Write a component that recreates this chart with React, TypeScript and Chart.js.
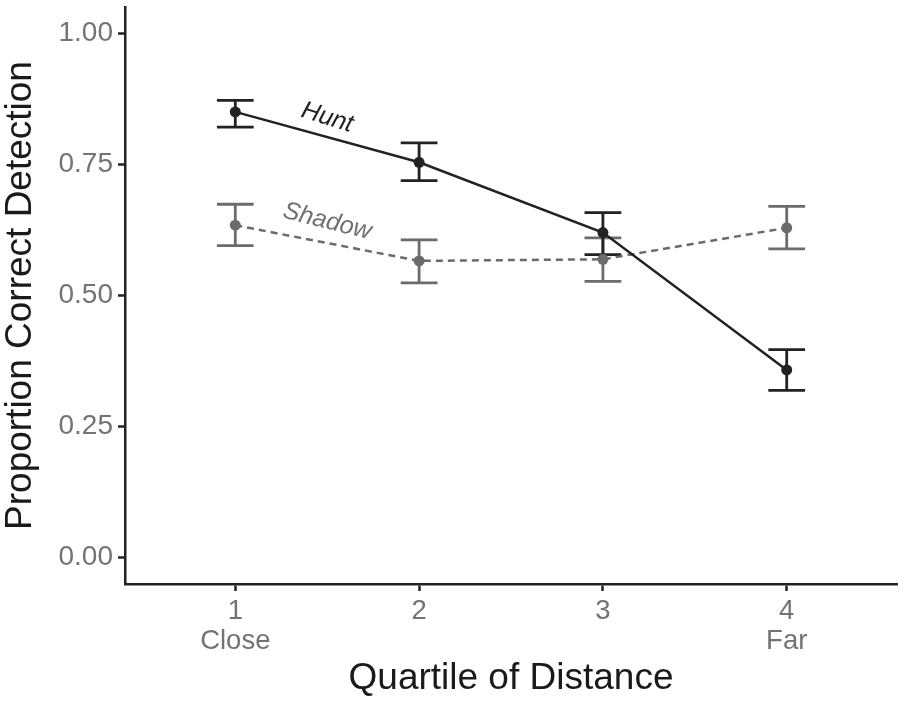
import React, { useEffect, useRef } from "react";
import { Chart, registerables } from "chart.js";

Chart.register(...registerables);

// ---- data ----
const quartiles = [1, 2, 3, 4];
const quartileLabels = [["1", "Close"], ["2"], ["3"], ["4", "Far"]];
const yTicks = [0, 0.25, 0.5, 0.75, 1.0];

const huntMean = [0.85, 0.754, 0.62, 0.358];
const huntLower = [0.821, 0.719, 0.578, 0.319];
const huntUpper = [0.872, 0.791, 0.658, 0.397];

const shadowMean = [0.634, 0.566, 0.569, 0.629];
const shadowLower = [0.595, 0.524, 0.527, 0.589];
const shadowUpper = [0.674, 0.606, 0.61, 0.67];

const seriesNames = ["Hunt", "Shadow"];
const seriesLabelX = [1.5, 1.5];
const seriesLabelY = [0.839, 0.641];

// ---- style ----
const FONT = '"Liberation Sans", Arial, Helvetica, sans-serif';
const huntColor = "#222222";
const shadowColor = "#6b6b6b";
const tickColor = "#737373";
const titleColor = "#1a1a1a";
const errorBarWidth = 0.2; // in x units

const overlayPlugin = {
  id: "overlay",
  beforeDatasetsDraw(chart: any) {
    const ctx = chart.ctx;
    const xs = chart.scales.x;
    const ys = chart.scales.y;
    const groups = [
      { lower: shadowLower, upper: shadowUpper, color: shadowColor },
      { lower: huntLower, upper: huntUpper, color: huntColor },
    ];
    ctx.save();
    for (const g of groups) {
      ctx.strokeStyle = g.color;
      ctx.lineWidth = 2.8;
      ctx.lineCap = "butt";
      quartiles.forEach((q, i) => {
        const x = xs.getPixelForValue(q);
        const half = xs.getPixelForValue(q + errorBarWidth / 2) - x;
        const yl = ys.getPixelForValue(g.lower[i]);
        const yu = ys.getPixelForValue(g.upper[i]);
        ctx.beginPath();
        ctx.moveTo(x, yl);
        ctx.lineTo(x, yu);
        ctx.moveTo(x - half, yl);
        ctx.lineTo(x + half, yl);
        ctx.moveTo(x - half, yu);
        ctx.lineTo(x + half, yu);
        ctx.stroke();
      });
    }
    ctx.restore();
  },
  afterDatasetsDraw(chart: any) {
    const ctx = chart.ctx;
    const xs = chart.scales.x;
    const ys = chart.scales.y;
    const colors = [huntColor, "#707070"];
    const angles = [17, 14];
    ctx.save();
    seriesNames.forEach((name, i) => {
      const x = xs.getPixelForValue(seriesLabelX[i]);
      const y = ys.getPixelForValue(seriesLabelY[i]);
      ctx.save();
      ctx.translate(x, y);
      ctx.rotate((angles[i] * Math.PI) / 180);
      ctx.font = `italic 25px ${FONT}`;
      ctx.fillStyle = colors[i];
      ctx.textAlign = "center";
      ctx.textBaseline = "middle";
      ctx.fillText(name, 0, 0);
      ctx.restore();
    });
    ctx.restore();
  },
};

export default function App() {
  const canvasRef = useRef<HTMLCanvasElement | null>(null);

  useEffect(() => {
    if (!canvasRef.current) return;
    const chart = new Chart(canvasRef.current, {
      type: "line",
      data: {
        datasets: [
          {
            label: seriesNames[0],
            data: quartiles.map((q, i) => ({ x: q, y: huntMean[i] })),
            borderColor: huntColor,
            backgroundColor: huntColor,
            borderWidth: 2.5,
            pointRadius: 5.5,
            pointBackgroundColor: huntColor,
            pointBorderWidth: 0,
            tension: 0,
            order: 0,
          },
          {
            label: seriesNames[1],
            data: quartiles.map((q, i) => ({ x: q, y: shadowMean[i] })),
            borderColor: shadowColor,
            backgroundColor: shadowColor,
            borderWidth: 2.5,
            borderDash: [7, 5],
            pointRadius: 5.5,
            pointBackgroundColor: shadowColor,
            pointBorderWidth: 0,
            tension: 0,
            order: 1,
          },
        ],
      },
      options: {
        responsive: false,
        animation: false,
        devicePixelRatio: 1,
        layout: { padding: { top: 7, right: 7, left: 0, bottom: 0 } },
        plugins: {
          legend: { display: false },
          tooltip: { enabled: false },
        },
        scales: {
          x: {
            type: "linear",
            min: 0.4,
            max: 4.6,
            afterBuildTicks: (s: any) => {
              s.ticks = quartiles.map((v) => ({ value: v }));
            },
            afterFit: (s: any) => {
              s.height = 120;
              s.paddingLeft = 0;
              s.paddingRight = 0;
            },
            ticks: {
              callback: (v: any) => {
                const idx = quartiles.indexOf(Number(v));
                return idx >= 0 ? quartileLabels[idx] : "";
              },
              color: tickColor,
              font: { size: 27.5, family: FONT, lineHeight: 1.08 },
              padding: 6,
              maxRotation: 0,
              autoSkip: false,
            },
            grid: {
              display: true,
              drawOnChartArea: false,
              drawTicks: true,
              tickLength: 7,
              tickColor: huntColor,
              tickWidth: 2.5,
            },
            border: { display: true, color: huntColor, width: 2.5 },
            title: {
              display: true,
              text: "Quartile of Distance",
              color: titleColor,
              font: { size: 37, family: FONT, lineHeight: 1.1 },
              padding: { top: 0, bottom: 5 },
            },
          },
          y: {
            type: "linear",
            min: -0.05,
            max: 1.05,
            afterBuildTicks: (s: any) => {
              s.ticks = yTicks.map((v) => ({ value: v }));
            },
            afterFit: (s: any) => {
              s.width = 125;
              s.paddingTop = 0;
              s.paddingBottom = 0;
            },
            ticks: {
              callback: (v: any) => Number(v).toFixed(2),
              color: tickColor,
              font: { size: 28, family: FONT, lineHeight: 1.1 },
              padding: 5,
            },
            grid: {
              display: true,
              drawOnChartArea: false,
              drawTicks: true,
              tickLength: 7,
              tickColor: huntColor,
              tickWidth: 2.5,
            },
            border: { display: true, color: huntColor, width: 2.5 },
            title: {
              display: true,
              text: "Proportion Correct Detection",
              color: titleColor,
              font: { size: 37, family: FONT, lineHeight: 1.1 },
              padding: { top: 0, bottom: 0 },
            },
          },
        },
      },
      plugins: [overlayPlugin],
    } as any);
    return () => chart.destroy();
  }, []);

  return (
    <div style={{ position: "absolute", left: 0, top: 0, width: 904, height: 704, background: "#ffffff" }}>
      <canvas ref={canvasRef} width={904} height={704} style={{ display: "block" }} />
    </div>
  );
}
